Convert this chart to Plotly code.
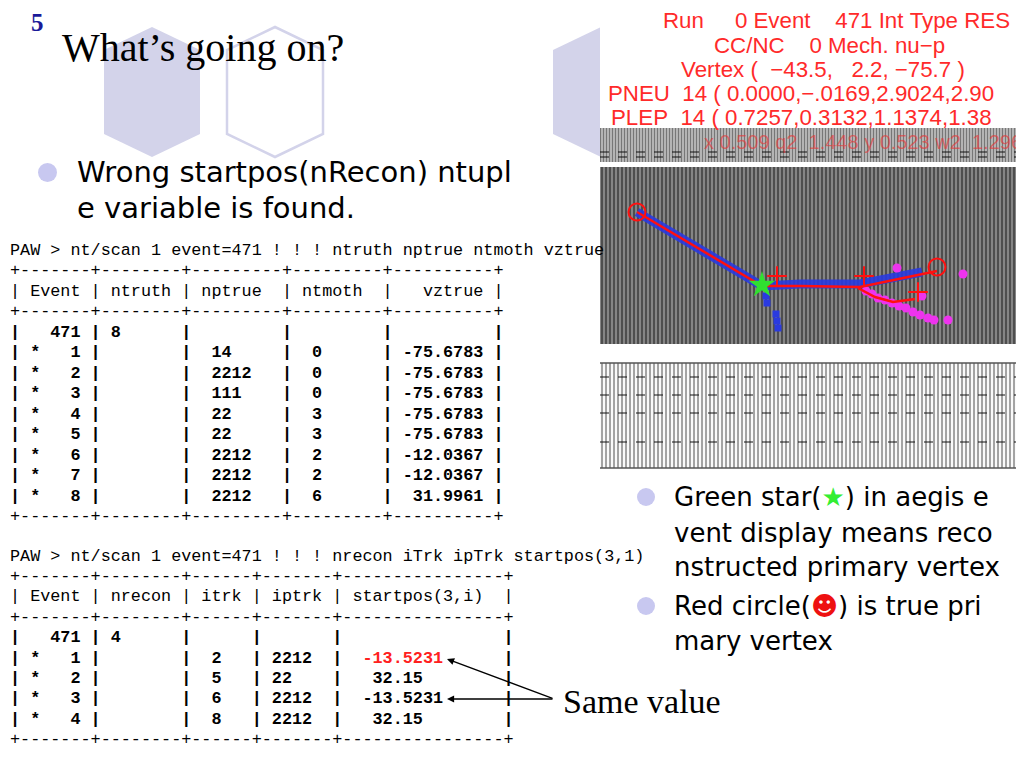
import plotly.graph_objects as go

NB = '\u00a0'

# --- table 1: nt/scan ntruth nptrue ntmoth vztrue ---
t1_event = 471
t1_ntruth = 8
t1_idx = [1, 2, 3, 4, 5, 6, 7, 8]
t1_nptrue = [14, 2212, 111, 22, 22, 2212, 2212, 2212]
t1_ntmoth = [0, 0, 0, 3, 3, 2, 2, 6]
t1_vztrue = [-75.6783, -75.6783, -75.6783, -75.6783, -75.6783, -12.0367, -12.0367, 31.9961]

# --- table 2: nt/scan nrecon iTrk ipTrk startpos ---
t2_event = 471
t2_nrecon = 4
t2_idx = [1, 2, 3, 4]
t2_itrk = [2, 5, 6, 8]
t2_iptrk = [2212, 22, 2212, 2212]
t2_startpos = ['-13.5231', '32.15', '-13.5231', '32.15']
t2_red_row = 1

# --- event display hits (page pixels) ---
red_trk_x = [637, 762, 800, 860, 937]
red_trk_y = [212, 286, 286, 287, 271]
red_branch_x = [858, 875, 893, 915]
red_branch_y = [288, 297, 302, 299]
blue_trk_x = [637, 700, 762, 800, 860, 922]
blue_trk_y = [212, 250, 286, 284, 284, 272]
blue_low_x = [766, 767, 776, 777, 778]
blue_low_y = [296, 303, 314, 321, 328]
magenta_x = [866, 872, 878, 885, 892, 899, 906, 913, 920, 928, 934, 948, 963, 897, 922]
magenta_y = [291, 294, 298, 300, 303, 306, 308, 312, 315, 318, 320, 320, 274, 268, 296]
vtx_reco = (762, 285)
red_circ_x = [637, 937]
red_circ_y = [212, 267]
tick_x = [777, 864, 918]
tick_y = [276, 276, 292]


def nb(s):
    return s.replace(' ', NB)


def bold(s):
    return '<b>' + s + '</b>'


border1 = '+-------+--------+---------+---------+----------+'
t1_html = [nb('PAW > nt/scan 1 event=471 ! ! ! ntruth nptrue ntmoth vztrue'),
           nb(border1),
           nb('| Event | ntruth | nptrue  | ntmoth  |   vztrue |'),
           nb(border1),
           bold(nb(f"| {t1_event:>5} | {t1_ntruth:<6} |{'':9}|{'':9}|{'':10}|"))]
for i, a, b, v in zip(t1_idx, t1_nptrue, t1_ntmoth, t1_vztrue):
    t1_html.append(bold(nb(f"| * {i:>3} |        |  {a:<7}|  {b:<7}| {v:>8.4f} |")))
t1_html.append(nb(border1))

border2 = '+-------+--------+------+-------+----------------+'
t2_html = [nb('PAW > nt/scan 1 event=471 ! ! ! nrecon iTrk ipTrk startpos(3,1)'),
           nb(border2),
           nb('| Event | nrecon | itrk | iptrk | startpos(3,i)  |'),
           nb(border2),
           bold(nb(f"| {t2_event:>5} | {t2_nrecon:<6} |{'':6}|{'':7}|{'':16}|"))]
for i, a, b, sp in zip(t2_idx, t2_itrk, t2_iptrk, t2_startpos):
    val = sp if sp.startswith('-') else ' ' + sp
    pre = nb(f"| * {i:>3} |        |  {a:<4}| {b:<6}|  ")
    post = nb(' ' * (14 - len(val)) + '|')
    if i == t2_red_row:
        val = "<span style='color:#ff2020'>" + nb(val) + "</span>"
    else:
        val = nb(val)
    t2_html.append(bold(pre + val + post))
t2_html.append(nb(border2))

fig = go.Figure()

lav = '#d3d3ea'


def hexpath(cx, cy, w=48, h=65, k=42):
    return (f'M {cx} {cy-h} L {cx+w} {cy-k} L {cx+w} {cy+k} L {cx} {cy+h} '
            f'L {cx-w} {cy+k} L {cx-w} {cy-k} Z')


shapes = [
    dict(type='path', path=hexpath(152, 92), fillcolor=lav, line_width=0, layer='below'),
    dict(type='path', path=hexpath(275, 92), fillcolor='rgba(0,0,0,0)', line=dict(color=lav, width=2.5), layer='below'),
    dict(type='path', path=hexpath(601, 92), fillcolor=lav, line_width=0, layer='below'),
    dict(type='rect', x0=600, x1=1024, y0=0, y1=475, fillcolor='white', line_width=0, layer='below'),
    dict(type='circle', x0=38, x1=57, y0=163, y1=182, fillcolor='#c8c8f0', line_width=0),
    dict(type='circle', x0=637, x1=655, y0=488, y1=506, fillcolor='#c8c8f0', line_width=0),
    dict(type='circle', x0=637, x1=655, y0=597, y1=615, fillcolor='#c8c8f0', line_width=0),
]
for yy in [152, 157]:
    shapes.append(dict(type='line', x0=600, x1=1024, y0=yy, y1=yy, line=dict(color='#111', width=1.2, dash='dash')))
for yy in [377, 395, 413, 442]:
    shapes.append(dict(type='line', x0=600, x1=1024, y0=yy, y1=yy, line=dict(color='#111', width=1.2, dash='dash')))
for yy in [363, 468]:
    shapes.append(dict(type='line', x0=600, x1=1024, y0=yy, y1=yy, line=dict(color='#555', width=1.5)))

# detector panels with vertical hatching
panels = [
    ((600, 1024, 128, 162), dict(shape='|', bgcolor='#dcdcdc', fgcolor='#111', size=3, solidity=0.6)),
    ((600, 1024, 167, 344), dict(shape='|', bgcolor='#9c9c9c', fgcolor='#000', size=4, solidity=0.65)),
    ((600, 1024, 363, 468), dict(shape='|', bgcolor='#fafafa', fgcolor='#3a3a3a', size=4, solidity=0.45)),
]
for (x0, x1, y0, y1), pat in panels:
    fig.add_trace(go.Scatter(x=[x0, x1, x1, x0, x0], y=[y0, y0, y1, y1, y0], fill='toself',
                             fillpattern=pat, fillcolor=pat['bgcolor'], mode='lines', line_width=0,
                             hoverinfo='skip', showlegend=False))

fig.add_trace(go.Scatter(x=blue_trk_x, y=blue_trk_y, mode='lines', line=dict(color='#2a3ae0', width=9),
                         opacity=0.9, showlegend=False, hoverinfo='skip'))
fig.add_trace(go.Scatter(x=blue_low_x, y=blue_low_y, mode='markers',
                         marker=dict(color='#2a3ae0', size=7, symbol='square'), showlegend=False, hoverinfo='skip'))
fig.add_trace(go.Scatter(x=magenta_x, y=magenta_y, mode='markers',
                         marker=dict(color='#ee33ee', size=9), showlegend=False, hoverinfo='skip'))
fig.add_trace(go.Scatter(x=red_trk_x, y=red_trk_y, mode='lines', line=dict(color='#ff1010', width=2.5),
                         showlegend=False, hoverinfo='skip'))
fig.add_trace(go.Scatter(x=red_branch_x, y=red_branch_y, mode='lines', line=dict(color='#ff1010', width=2.5),
                         showlegend=False, hoverinfo='skip'))
fig.add_trace(go.Scatter(x=red_circ_x, y=red_circ_y, mode='markers',
                         marker=dict(color='rgba(0,0,0,0)', size=17, line=dict(color='#ff1010', width=2)),
                         showlegend=False, hoverinfo='skip'))
fig.add_trace(go.Scatter(x=tick_x, y=tick_y, mode='markers',
                         marker=dict(symbol='cross-thin-open', size=14, color='#ff1010',
                                     line=dict(color='#ff1010', width=2)),
                         showlegend=False, hoverinfo='skip'))
fig.add_trace(go.Scatter(x=[vtx_reco[0]], y=[vtx_reco[1]], mode='markers',
                         marker=dict(symbol='star', size=20, color='#30e030'), showlegend=False, hoverinfo='skip'))

ann = []


def txt(x, y, s, size, color='black', family='DejaVu Sans', xanchor='left'):
    ann.append(dict(x=x, y=y, xref='x', yref='y', text=s, showarrow=False, xanchor=xanchor,
                    yanchor='middle', font=dict(size=size, color=color, family=family)))


txt(29, 22, '<b>5</b>', 25, '#1a1a99', 'Liberation Serif')
txt(60, 47, 'What’s going on?', 40, 'black', 'Liberation Serif')
txt(75, 172, 'Wrong startpos(nRecon) ntupl', 29)
txt(75, 208, 'e variable is found.', 29)

for k, s in enumerate(t1_html):
    txt(8, 250 + k * 20.5, s, 16.8, 'black', 'Liberation Mono')
for k, s in enumerate(t2_html):
    txt(8, 556 + k * 20.4, s, 16.8, 'black', 'Liberation Mono')

red = '#ff2a2a'
ev_lines = [(661, 20, 'Run     0 Event    471 Int Type RES'),
            (712, 45, 'CC/NC    0 Mech. nu−p'),
            (679, 69, 'Vertex (  −43.5,   2.2, −75.7 )'),
            (606, 93, 'PNEU  14 ( 0.0000,−.0169,2.9024,2.90'),
            (609, 117, 'PLEP  14 ( 0.7257,0.3132,1.1374,1.38')]
for x, y, s in ev_lines:
    txt(x, y, nb(s), 22.3, red, 'Liberation Sans')
txt(702, 142, nb('x 0.509 q2  1.448 y 0.523 w2  1.296'), 20, 'rgba(235,50,50,0.6)', 'Liberation Sans')

txt(672, 497, 'Green star(<span style="color:#33ee33">★</span>) in aegis e', 26)
txt(672, 533, 'vent display means reco', 26)
txt(672, 567, 'nstructed primary vertex', 26)
txt(672, 606, 'Red circle(<span style="color:#ee1111">☻</span>) is true pri', 26)
txt(672, 641, 'mary vertex', 26)

txt(561, 701, 'Same value', 34, 'black', 'Liberation Serif')

for tipx, tipy in [(447, 659), (447, 699)]:
    ann.append(dict(x=tipx, y=tipy, ax=554, ay=699, xref='x', yref='y', axref='x', ayref='y',
                    text='', showarrow=True, arrowhead=2, arrowsize=1.1, arrowwidth=1.3, arrowcolor='black'))

# page has an 8px body margin: shift the canvas so coordinates equal page pixels
fig.update_layout(width=1016, height=760, margin=dict(l=0, r=0, t=0, b=0),
                  paper_bgcolor='white', plot_bgcolor='white',
                  xaxis=dict(range=[8, 1024], visible=False, fixedrange=True),
                  yaxis=dict(range=[768, 8], visible=False, fixedrange=True),
                  shapes=shapes, annotations=ann, showlegend=False)

fig.write_html('out.html')
